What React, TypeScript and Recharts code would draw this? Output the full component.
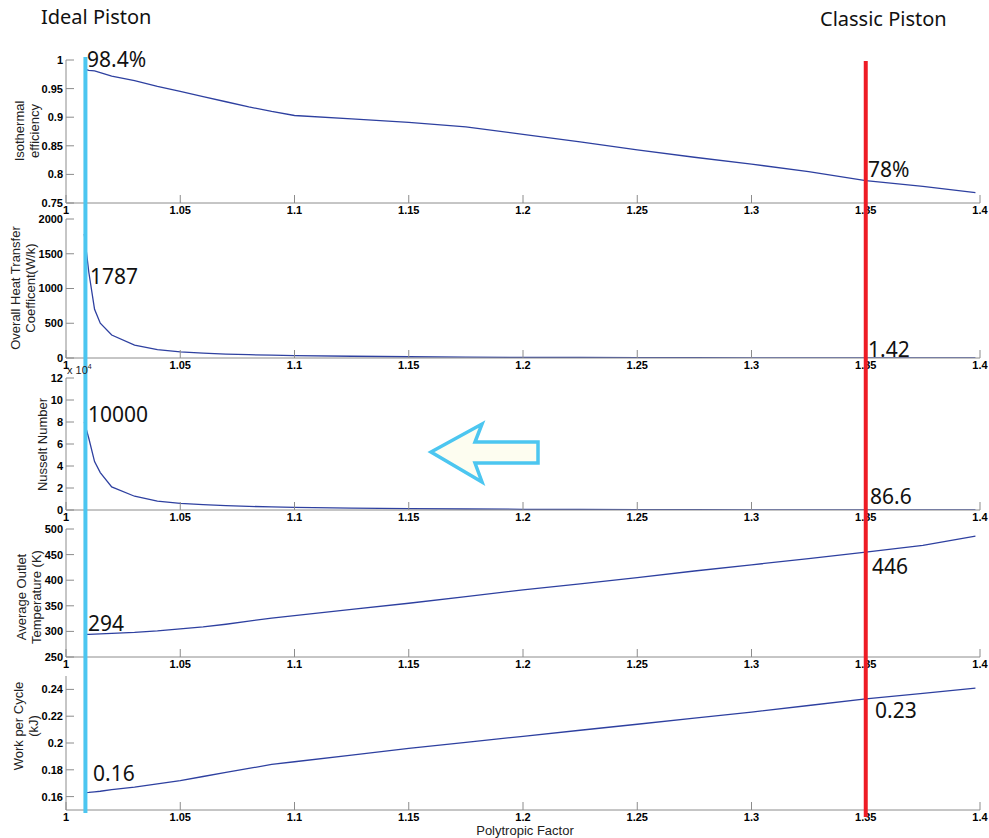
import React from "react";
import { LineChart, Line, XAxis, YAxis, ReferenceLine } from "recharts";

// polytropic factor samples (shared x for every panel)
const polytropic = [1.008, 1.01, 1.0125, 1.015, 1.02, 1.03, 1.04, 1.05, 1.06, 1.07, 1.08, 1.09, 1.1, 1.125, 1.15, 1.175, 1.2, 1.225, 1.25, 1.275, 1.3, 1.325, 1.35, 1.375, 1.398];

const isothermalEff = [0.984, 0.982, 0.981, 0.978, 0.972, 0.964, 0.954, 0.945, 0.936, 0.927, 0.918, 0.91, 0.903, 0.897, 0.891, 0.883, 0.87, 0.857, 0.843, 0.83, 0.818, 0.805, 0.789, 0.779, 0.768];
const heatTransfer = [1787, 1230, 700, 500, 330, 185, 120, 88, 70, 57, 48, 40, 34, 25, 18, 13, 9.5, 7, 5.2, 3.9, 2.9, 2.1, 1.42, 1.1, 0.9];
const nusseltE4 = [8.0, 6.5, 4.4, 3.4, 2.1, 1.25, 0.8, 0.6, 0.48, 0.4, 0.33, 0.28, 0.24, 0.17, 0.12, 0.09, 0.065, 0.048, 0.035, 0.025, 0.018, 0.012, 0.00866, 0.006, 0.005];
const outletTemp = [294, 294.3, 294.6, 295, 296, 298, 301, 305, 309, 314, 320, 326, 331, 343, 355, 368, 381, 393, 405, 418, 430, 442, 455, 468, 486];
const workPerCycle = [0.163, 0.1632, 0.1636, 0.164, 0.1652, 0.167, 0.1695, 0.172, 0.175, 0.178, 0.181, 0.184, 0.186, 0.191, 0.196, 0.2005, 0.205, 0.2095, 0.214, 0.2185, 0.223, 0.228, 0.233, 0.237, 0.241];

const xTicks = [1, 1.05, 1.1, 1.15, 1.2, 1.25, 1.3, 1.35, 1.4];
const effTicks = [0.75, 0.8, 0.85, 0.9, 0.95, 1];
const heatTicks = [0, 500, 1000, 1500, 2000];
const nuTicks = [0, 2, 4, 6, 8, 10, 12];
const tempTicks = [250, 300, 350, 400, 450, 500];
const workTicks = [0.16, 0.18, 0.2, 0.22, 0.24];

const idealX = 1.0085;
const classicX = 1.35;

const W = 989;
const PAD = 10;
const FRAME = "#8c8c8c";
const LINE = "#2e40a0";
const tickFont = { fill: "#000", fontSize: 11, fontWeight: "bold", fontFamily: "'Liberation Sans', Arial, sans-serif" };

type PanelProps = { top: number; h: number; values: number[]; domain: [number, number]; yTicks: number[] };

function Panel({ top, h, values, domain, yTicks }: PanelProps) {
  const data = polytropic.map((x, i) => ({ x, v: values[i] }));
  return (
    <div style={{ position: "absolute", left: 0, top: top - PAD }}>
      <LineChart width={W} height={h + PAD + 20} data={data} margin={{ top: PAD, right: 9, bottom: 0, left: 0 }}>
        <XAxis xAxisId="b" dataKey="x" type="number" domain={[1, 1.4]} ticks={xTicks} interval={0}
          tickSize={-8} tickMargin={11} height={20} stroke={FRAME} tick={tickFont}
          tickFormatter={(v: number) => String(v)} allowDataOverflow />
        <XAxis xAxisId="t" orientation="top" dataKey="x" type="number" domain={[1, 1.4]} ticks={xTicks}
          interval={0} tickSize={-8} tick={false} height={0} stroke={FRAME} allowDataOverflow />
        <YAxis yAxisId="l" type="number" domain={domain} ticks={yTicks} interval={0} width={66}
          tickSize={-8} tickMargin={11} stroke={FRAME} tick={tickFont}
          tickFormatter={(v: number) => String(v)} allowDataOverflow />
        <YAxis yAxisId="r" orientation="right" type="number" domain={domain} ticks={yTicks} interval={0}
          width={0} tickSize={-8} tick={false} stroke={FRAME} allowDataOverflow />
        <Line xAxisId="b" yAxisId="l" dataKey="v" stroke={LINE} strokeWidth={1.3} dot={false} isAnimationActive={false} />
      </LineChart>
    </div>
  );
}

// full-height vertical marker spanning all panels, on the same x scale
function Marker({ x, top, bottom, color }: { x: number; top: number; bottom: number; color: string }) {
  const data = polytropic.map((p) => ({ x: p, y: 0.5 }));
  return (
    <div style={{ position: "absolute", left: 0, top }}>
      <LineChart width={W} height={bottom - top} data={data} margin={{ top: 0, right: 9, bottom: 0, left: 0 }}>
        <XAxis type="number" dataKey="x" domain={[1, 1.4]} height={0} axisLine={false} tickLine={false} tick={false} allowDataOverflow />
        <YAxis type="number" domain={[0, 1]} width={66} axisLine={false} tickLine={false} tick={false} />
        <Line dataKey="y" stroke="none" dot={false} isAnimationActive={false} />
        <ReferenceLine x={x} stroke={color} strokeWidth={4} ifOverflow="visible" />
      </LineChart>
    </div>
  );
}

const big: React.CSSProperties = { position: "absolute", fontFamily: "'Noto Sans', sans-serif", fontSize: 21, lineHeight: 1, color: "#111", whiteSpace: "nowrap" };

function Note({ x, base, text, size = 21 }: { x: number; base: number; text: string; size?: number }) {
  return <div style={{ ...big, fontSize: size, left: x, top: base - size * 0.888 }}>{text}</div>;
}

function YTitle({ cx, cy, lines }: { cx: number; cy: number; lines: string[] }) {
  const w = 200;
  const hh = lines.length * 15;
  return (
    <div style={{
      position: "absolute", left: cx - w / 2, top: cy - hh / 2, width: w, height: hh,
      transform: "rotate(-90deg)", textAlign: "center", fontFamily: "'Liberation Sans', Arial, sans-serif",
      fontSize: 13, lineHeight: "15px", color: "#222",
    }}>
      {lines.map((l) => <div key={l}>{l}</div>)}
    </div>
  );
}

export default function App() {
  return (
    <div style={{ position: "absolute", left: 0, top: 0, width: W, height: 838, background: "#fff", overflow: "hidden" }}>
      <Panel top={60} h={143} values={isothermalEff} domain={[0.75, 1]} yTicks={effTicks} />
      <Panel top={219} h={139} values={heatTransfer} domain={[0, 2000]} yTicks={heatTicks} />
      <Panel top={378} h={132} values={nusseltE4} domain={[0, 12]} yTicks={nuTicks} />
      <Panel top={529} h={128} values={outletTemp} domain={[250, 500]} yTicks={tempTicks} />
      <Panel top={676} h={134} values={workPerCycle} domain={[0.15, 0.25]} yTicks={workTicks} />

      <Marker x={idealX} top={57} bottom={813} color="#4cc6f0" />
      <Marker x={classicX} top={61} bottom={817} color="#ee1c25" />

      <svg width={W} height={838} style={{ position: "absolute", left: 0, top: 0, pointerEvents: "none" }}>
        <polygon points="431,452 482,424 475,442 538,442 538,463 475,463 482,482"
          fill="#fdfdf0" stroke="#4cc6f0" strokeWidth={3.5} strokeLinejoin="miter" />
      </svg>

      <YTitle cx={27} cy={131} lines={["Isothermal", "efficiency"]} />
      <YTitle cx={23} cy={288} lines={["Overall Heat Transfer", "Coefficent(W/k)"]} />
      <YTitle cx={42} cy={444} lines={["Nusselt Number"]} />
      <YTitle cx={29} cy={597} lines={["Average Outlet", "Temperature (K)"]} />
      <YTitle cx={26} cy={726} lines={["Work per Cycle", "(kJ)"]} />

      <div style={{ position: "absolute", left: 67, top: 363, fontFamily: "'Liberation Sans', Arial, sans-serif", fontSize: 11, color: "#222", lineHeight: 1 }}>
        x 10<sup style={{ fontSize: 7 }}>4</sup>
      </div>
      <div style={{ position: "absolute", left: 425, width: 200, textAlign: "center", top: 824, fontFamily: "'Liberation Sans', Arial, sans-serif", fontSize: 13, color: "#222", lineHeight: 1 }}>
        Polytropic Factor
      </div>

      <Note x={41} base={25} text="Ideal Piston" size={20} />
      <Note x={820} base={27} text="Classic Piston" size={20} />

      <Note x={87} base={68} text="98.4%" />
      <Note x={90} base={285} text="1787" />
      <Note x={88} base={423} text="10000" />
      <Note x={88} base={632} text="294" />
      <Note x={93} base={782} text="0.16" />

      <Note x={868} base={178} text="78%" />
      <Note x={868} base={358} text="1.42" />
      <Note x={870} base={505} text="86.6" />
      <Note x={872} base={575} text="446" />
      <Note x={875} base={719} text="0.23" />
    </div>
  );
}
